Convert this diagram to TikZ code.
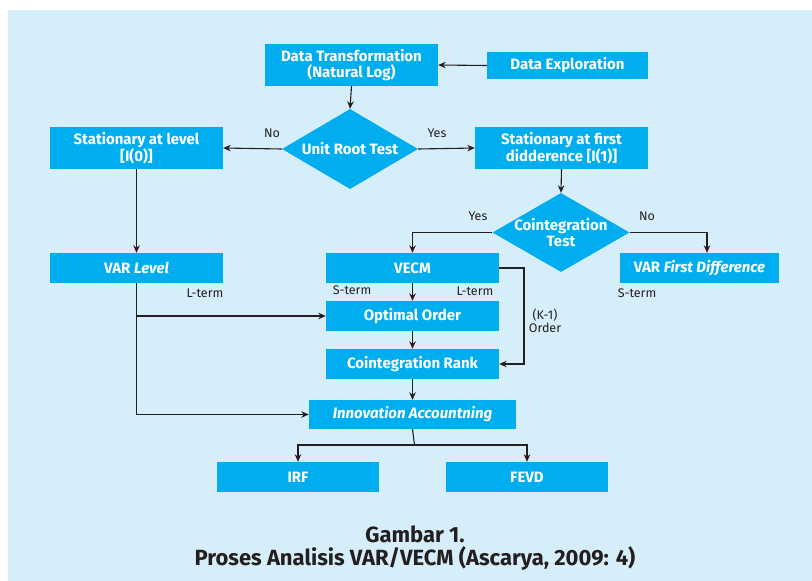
\documentclass[tikz,border=0pt]{standalone}
\usepackage{fontspec}
\setmainfont{Fira Sans}
\usetikzlibrary{shapes.geometric,arrows.meta}
\definecolor{bgblue}{HTML}{D6EDFA}
\definecolor{boxcyan}{HTML}{00AEEF}
\definecolor{linedark}{HTML}{231F20}
\tikzset{
  box/.style={rectangle, fill=boxcyan, text=white, inner sep=0pt, align=center,
    font=\fontsize{15}{16.5}\selectfont\bfseries},
  dia/.style={diamond, fill=boxcyan, inner sep=0pt, minimum width=136pt, minimum height=80pt},
  diatext/.style={text=white, inner sep=0pt, align=center, font=\fontsize{15}{16.5}\selectfont\bfseries},
  lbl/.style={text=linedark, inner sep=0pt, align=center, font=\fontsize{12.5}{12.5}\selectfont},
  conn/.style={draw=linedark, line width=1.1pt},
  arr/.style={conn, -{Stealth[length=7.5pt,width=6.5pt]}},
  captext/.style={text=linedark, inner sep=0pt, font=\fontsize{22}{24}\selectfont\bfseries},
}
\begin{document}
\begin{tikzpicture}[x=1pt,y=-1pt]
\useasboundingbox (0,0) rectangle (812,581);
\fill[white] (0,0) rectangle (812,581);
\fill[bgblue] (8,10) rectangle (812,581);

% boxes
\node[box, minimum width=173pt, minimum height=42pt] (dt) at (351.5,65) {Data Transformation\\(Natural Log)};
\node[box, minimum width=161pt, minimum height=27pt] (de) at (567.5,65.5) {Data Exploration};
\node[box, minimum width=173pt, minimum height=42pt] (sl) at (136.5,148) {Stationary at level\\{[I(0)]}};
\node[dia] (urt) at (350,149) {};
\node[diatext] at (urt) {Unit Root Test};
\node[box, minimum width=173pt, minimum height=42pt] (sf) at (561.5,148) {Stationary at first\\didderence [I(1)]};
\node[dia, minimum width=137pt, minimum height=79pt] (ct) at (561,232.5) {};
\node[diatext] at (ct) {Cointegration\\Test};
\node[box, minimum width=173pt, minimum height=30pt] (varl) at (136.5,268) {VAR \textit{Level}};
\node[box, minimum width=173pt, minimum height=30pt] (vecm) at (412.5,268) {VECM};
\node[box, minimum width=159pt, minimum height=30pt] (varfd) at (699.5,268) {VAR \textit{First Difference}};
\node[box, minimum width=173pt, minimum height=30pt] (oo) at (412.5,316) {Optimal Order};
\node[box, minimum width=173pt, minimum height=30pt] (cr) at (412.5,364) {Cointegration Rank};
\node[box, minimum width=207pt, minimum height=29pt] (ia) at (412.5,414.5) {\textit{Innovation Accountning}};
\node[box, minimum width=162pt, minimum height=30pt] (irf) at (298,477) {IRF};
\node[box, minimum width=162pt, minimum height=30pt] (fevd) at (527,477) {FEVD};

% helper coordinates
\coordinate (kc) at (524,300);
\coordinate (split) at (414.5,445);

% connectors
\draw[arr] (de.west) -- (dt.east);
\draw[arr] (dt.south) -- (urt.north);
\draw[arr] (urt.west) -- (sl.east);
\draw[arr] (urt.east) -- (sf.west);
\draw[arr] (sf.south) -- (ct.north);
\draw[arr] (ct.west) -| (vecm.north);
\draw[arr] (ct.east) -| ([xshift=7.5pt]varfd.north);
\draw[arr] (sl.south) -- (varl.north);
\draw[arr] (vecm.south) -- (oo.north);
\draw[arr] (oo.south) -- (cr.north);
\draw[arr] (cr.south) -- (ia.north);
\draw[arr] (vecm.east) -| (kc) |- (cr.east);
\draw[arr] (varl.south) |- (ia.west);
\draw[arr] (varl.south |- oo.west) -- (oo.west);
\draw[conn] (ia.south) -- (split);
\draw[arr] (split) -| (irf.north);
\draw[arr] (split) -| (fevd.north);

% labels
\node[lbl] at (272,133) {No};
\node[lbl] at (437,133) {Yes};
\node[lbl] at (478,216) {Yes};
\node[lbl] at (647,216) {No};
\node[lbl] at (205,293) {L-term};
\node[lbl] at (352,290) {S-term};
\node[lbl] at (475,291) {L-term};
\node[lbl] at (637,293) {S-term};
\node[lbl] at (545,321) {(K-1)\\Order};

% caption
\node[captext] (cap1) at (415,534) {Gambar 1.};
\node[captext] (cap2) at (415,558) {Proses Analisis VAR/VECM (Ascarya, 2009: 4)};
\end{tikzpicture}
\end{document}
